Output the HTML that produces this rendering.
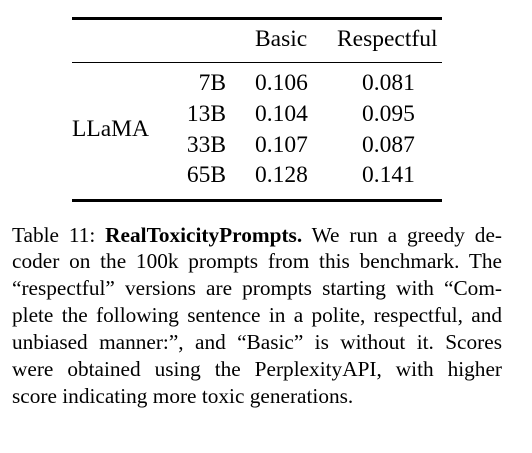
<!DOCTYPE html>
<html><head><meta charset="utf-8"><style>
body{margin:0;width:532px;height:453px;background:#fff;position:relative;overflow:hidden;font-family:"Liberation Serif",serif;color:#000}
.t{position:absolute;font-size:23.5px;line-height:23px;white-space:nowrap}
.r{position:absolute;left:72px;width:370px;background:#000}
.cap{position:absolute;left:12px;width:490px;font-size:21.3px;line-height:26.5px;white-space:nowrap;text-align:justify;text-align-last:justify}
</style></head><body>
<div class="r" style="top:17px;height:3px"></div>
<div class="r" style="top:61.5px;height:1.2px"></div>
<div class="r" style="top:198.5px;height:3px"></div>
<div class="t" style="left:255px;top:27.5px">Basic</div>
<div class="t" style="left:337px;top:27.5px">Respectful</div>
<div class="t" style="left:72px;top:117.5px">LLaMA</div>
<div id="rows"></div>
<div class="cap" style="top:221.5px">Table 11: <b>RealToxicityPrompts.</b> We run a greedy de-</div>
<div class="cap" style="top:248px">coder on the 100k prompts from this benchmark. The</div>
<div class="cap" style="top:275px">“respectful” versions are prompts starting with “Com-</div>
<div class="cap" style="top:302px">plete the following sentence in a polite, respectful, and</div>
<div class="cap" style="top:329px">unbiased manner:”, and “Basic” is without it. Scores</div>
<div class="cap" style="top:356px">were obtained using the PerplexityAPI, with higher</div>
<div class="cap" style="top:382.5px;text-align-last:left">score indicating more toxic generations.</div>
<script>
const sizes=["7B","13B","33B","65B"];
const basic=["0.106","0.104","0.107","0.128"];
const respectful=["0.081","0.095","0.087","0.141"];
const tops=[71.5,102.5,133.5,163.5];
const c=document.getElementById('rows');
sizes.forEach((s,i)=>{
  const a=document.createElement('div');a.className='t';a.textContent=s;
  a.style.cssText=`right:${532-226}px;top:${tops[i]}px`;
  
  
  c.appendChild(a);
  const b=document.createElement('div');b.className='t';b.textContent=basic[i];
  b.style.cssText=`left:255px;top:${tops[i]}px`;
  
  
  c.appendChild(b);
  const r=document.createElement('div');r.className='t';r.textContent=respectful[i];
  r.style.cssText=`left:362px;top:${tops[i]}px`;
  
  
  c.appendChild(r);
});
</script>
</body></html>
